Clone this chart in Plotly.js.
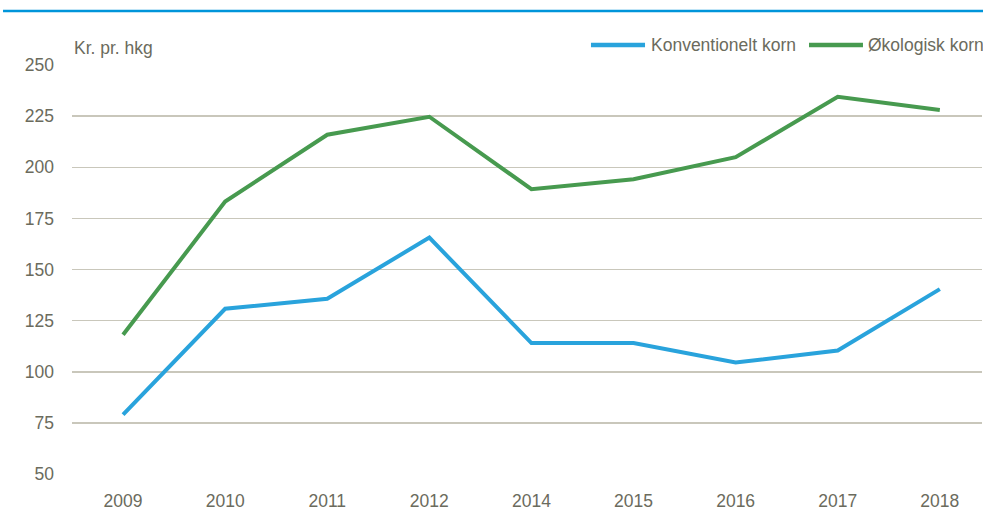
<!DOCTYPE html>
<html>
<head>
<meta charset="utf-8">
<script src="https://cdn.plot.ly/plotly-3.0.1.min.js"></script>
<style>html,body{margin:0;padding:0;background:#fff;}#chart{width:983px;height:511px;}</style>
</head>
<body>
<div id="chart"></div>
<script>
const years = ["2009","2010","2011","2012","2014","2015","2016","2017","2018"];
const konventionelt = [79.0, 130.8, 135.7, 165.6, 114.0, 114.0, 104.5, 110.4, 140.4];
const okologisk = [118.1, 183.2, 215.9, 224.7, 189.3, 194.1, 204.9, 234.5, 228.0];
const seriesNames = ["Konventionelt korn", "Økologisk korn"];
const seriesColors = ['#29a3dc', '#479a4f'];
const yTicks = [50, 75, 100, 125, 150, 175, 200, 225, 250];
const unitLabel = "Kr. pr. hkg";

const FONT = '"Liberation Sans", Arial, sans-serif';
const FS = 17.5;
const TXT = '#6b6b5d';

const traces = [
  {x: years, y: konventionelt, name: seriesNames[0], type: 'scatter', mode: 'lines',
   line: {color: seriesColors[0], width: 4}, showlegend: false},
  {x: years, y: okologisk, name: seriesNames[1], type: 'scatter', mode: 'lines',
   line: {color: seriesColors[1], width: 4}, showlegend: false}
];

// custom legend (sample line + label), positioned in paper coordinates
const LEG_Y = 1.0489;
const legendItems = [
  {x0: 0.5703, x1: 0.6297, tx: 0.6341},
  {x0: 0.8099, x1: 0.8692, tx: 0.8725}
];
const legendShapes = legendItems.map((it, i) => ({
  type: 'line', xref: 'paper', yref: 'paper', x0: it.x0, x1: it.x1, y0: LEG_Y, y1: LEG_Y,
  line: {color: seriesColors[i], width: 4.5}
}));
const legendLabels = legendItems.map((it, i) => ({
  text: seriesNames[i], xref: 'paper', yref: 'paper', x: it.tx, y: LEG_Y,
  xanchor: 'left', yanchor: 'middle', showarrow: false,
  font: {family: FONT, size: FS, color: TXT}
}));

const layout = {
  width: 983, height: 511,
  margin: {l: 72, r: 1, t: 65, b: 36.7},
  paper_bgcolor: '#fff', plot_bgcolor: '#fff',
  font: {family: FONT, size: FS, color: TXT},
  showlegend: false,
  xaxis: {type: 'category', range: [-0.5, 8.413], showgrid: false, zeroline: false,
          showline: false, ticks: '', ticklabelstandoff: 14,
          tickfont: {family: FONT, size: FS, color: TXT}, fixedrange: true},
  yaxis: {range: [50, 250], tickvals: yTicks, ticktext: yTicks.map(String),
          showgrid: true, gridcolor: '#c9c7bb', gridwidth: 1.5, zeroline: false,
          showline: false, ticks: '', ticklabelstandoff: 17,
          tickfont: {family: FONT, size: FS, color: TXT}, fixedrange: true},
  shapes: [
    {type: 'line', xref: 'paper', yref: 'paper', x0: -0.0758, x1: 1.002, y0: 1.132, y1: 1.132,
     line: {color: '#0095da', width: 2.5}}
  ].concat(legendShapes),
  annotations: [
    {text: unitLabel, xref: 'paper', yref: 'paper', x: 0, y: 1.042, xanchor: 'left', yanchor: 'middle',
     showarrow: false, font: {family: FONT, size: FS, color: TXT}}
  ].concat(legendLabels)
};

Plotly.newPlot('chart', traces, layout, {displayModeBar: false, staticPlot: true});
</script>
</body>
</html>
